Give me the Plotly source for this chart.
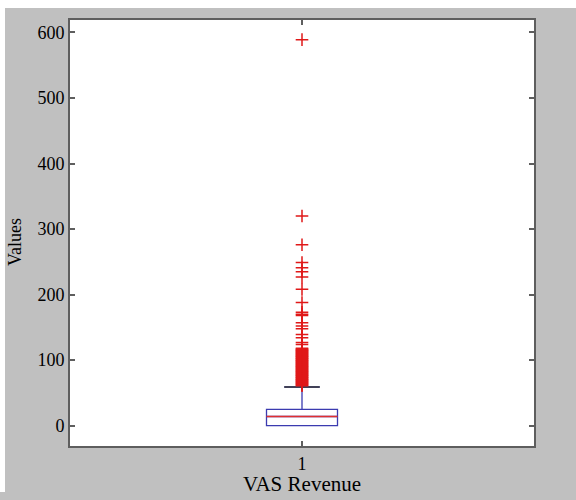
import plotly.graph_objects as go

# ---- data ----
categories = [1]
q1 = [0]
median = [14]
q3 = [25]
lower_fence = [0]
upper_fence = [59]
outliers = [61, 62, 63, 64, 65, 66, 67, 68, 69, 70, 71, 72, 73, 74, 75, 76, 77, 78, 79, 80,
            81, 82, 83, 84, 85, 86, 87, 88, 89, 90, 91, 92, 93, 94, 95, 96, 97, 98, 99, 100,
            101, 102, 103, 104, 105, 106, 107, 108, 109, 110, 111, 112, 113, 114, 115, 116,
            117, 118, 124, 127, 134, 139, 148, 152, 157, 168, 170, 173, 188, 208, 227, 235,
            241, 249, 276, 320, 589]
y_ticks = [0, 100, 200, 300, 400, 500, 600]
x_tick_labels = ["1"]

# ---- style ----
W, H = 576, 500
ML, MR, MT, MB = 70, 42, 20, 54
box_w = 0.153
FONT = "Liberation Serif, Times New Roman, serif"
frame_col = "#5e5e5e"

fig = go.Figure()
fig.add_trace(go.Box(
    x=categories, q1=q1, median=median, q3=q3,
    lowerfence=lower_fence, upperfence=upper_fence,
    boxpoints=False, width=box_w, whiskerwidth=0.5,
    line=dict(color="#3b3bb0", width=1.3), fillcolor="rgba(0,0,0,0)",
    showlegend=False, hoverinfo="skip"))

c = categories[0]
# median in red
fig.add_trace(go.Scatter(x=[c - box_w / 2, c + box_w / 2], y=[median[0], median[0]],
                         mode="lines", line=dict(color="#e03030", width=1.3),
                         showlegend=False, hoverinfo="skip"))
# whisker cap in dark
fig.add_trace(go.Scatter(x=[c - box_w / 4, c + box_w / 4], y=[upper_fence[0], upper_fence[0]],
                         mode="lines", line=dict(color="#333333", width=1.5),
                         showlegend=False, hoverinfo="skip"))
# outliers
fig.add_trace(go.Scatter(x=[c] * len(outliers), y=outliers, mode="markers",
                         marker=dict(symbol="cross-thin", size=9,
                                     line=dict(color="#e01818", width=1.5)),
                         showlegend=False, hoverinfo="skip"))

pw = W - ML - MR
ph = H - MT - MB
def px2x(p):
    return (p - ML) / pw
def px2y(p):
    return (H - MB - p) / ph

shapes = [
    dict(type="rect", xref="paper", yref="paper", x0=px2x(0), x1=px2x(5),
         y0=px2y(492), y1=px2y(0), fillcolor="white", line=dict(width=0), layer="below"),
    dict(type="rect", xref="paper", yref="paper", x0=px2x(0), x1=px2x(W),
         y0=px2y(8), y1=px2y(0), fillcolor="white", line=dict(width=0), layer="below"),
]

annotations = [
    dict(text="VAS Revenue", xref="paper", yref="paper", x=0.5, y=px2y(484),
         xanchor="center", yanchor="middle", showarrow=False,
         font=dict(family=FONT, size=21, color="black")),
    dict(text="Values", xref="paper", yref="paper", x=px2x(15), y=px2y(242),
         xanchor="center", yanchor="middle", showarrow=False, textangle=-90,
         font=dict(family=FONT, size=18, color="black")),
]

axis_common = dict(showline=True, linecolor=frame_col, linewidth=2, mirror="ticks",
                   ticks="inside", ticklen=5, tickwidth=2, tickcolor=frame_col,
                   showgrid=False, zeroline=False,
                   tickfont=dict(family=FONT, size=18, color="black"))

fig.update_layout(
    width=W, height=H,
    margin=dict(l=ML, r=MR, t=MT, b=MB),
    paper_bgcolor="#c0c0c0", plot_bgcolor="white",
    xaxis=dict(range=[0.5, 1.5], tickvals=categories, ticktext=x_tick_labels, **axis_common),
    yaxis=dict(range=[-31, 619], tickvals=y_ticks, **axis_common),
    shapes=shapes, annotations=annotations,
)

fig.write_html("out.html")
